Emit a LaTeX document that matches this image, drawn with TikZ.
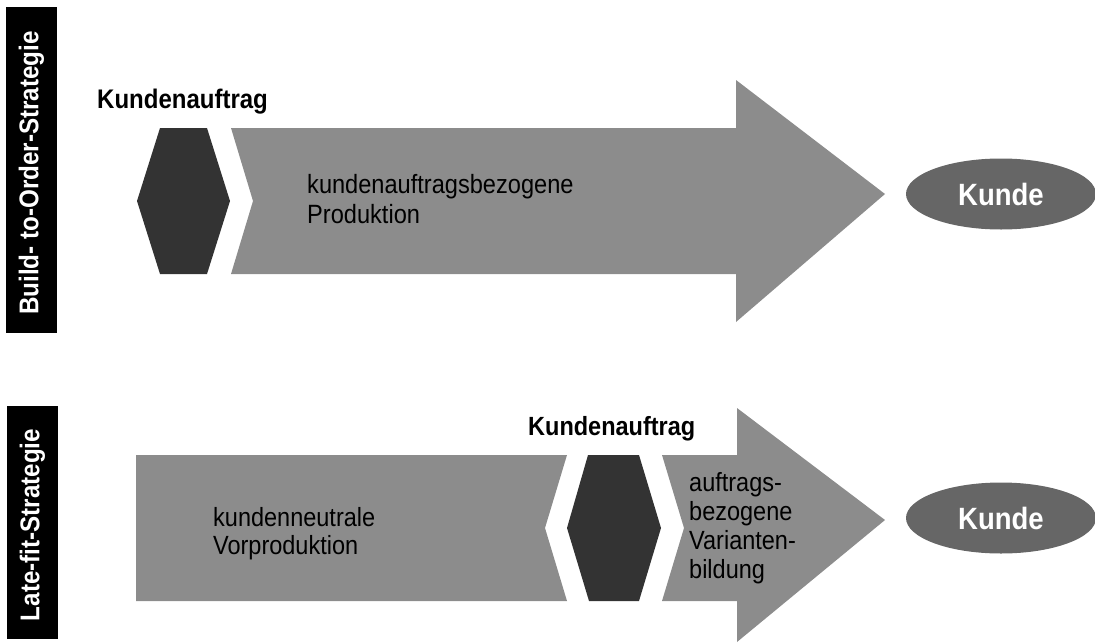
\documentclass[tikz,border=0pt]{standalone}
\usepackage{fontspec}
\usepackage{graphicx}
\setmainfont{Liberation Sans}
\usetikzlibrary{shapes.geometric}
\definecolor{arrowgray}{RGB}{140,140,140}
\definecolor{hexdark}{RGB}{51,51,51}
\definecolor{ellgray}{RGB}{102,102,102}
\newcommand{\vstretch}[1]{\scalebox{1}[1.12]{#1}}
\newcommand{\linesblock}[1]{\vstretch{\begin{tabular}[b]{@{}l@{}}#1\end{tabular}}}
\begin{document}
\begin{tikzpicture}[x=1pt,y=-1pt,
  arrowpart/.style={fill=arrowgray,draw=none},
  hexpart/.style={fill=hexdark,draw=none},
  kundeell/.style={ellipse,fill=ellgray,draw=none,minimum width=190pt,minimum height=71pt,inner sep=0pt,
     text=white,font=\fontsize{27.5}{30}\selectfont\bfseries},
  stratlabel/.style={rotate=90,text=white,font=\fontsize{24.2}{28}\selectfont\bfseries,inner sep=0pt},
  ordertext/.style={anchor=base west,inner sep=0pt,font=\fontsize{24}{28}\selectfont\bfseries},
  bodytext/.style={anchor=base west,inner sep=0pt},
]
\useasboundingbox (0,0) rectangle (1095,643);
% ---------- Build-to-Order ----------
\fill[black] (6,7) rectangle (57,333);
\node[stratlabel] (lab1) at (31.5,173) {\vstretch{Build- to-Order-Strategie}};
\node[ordertext] (ka1) at (97,108) {\vstretch{Kundenauftrag}};
\fill[hexpart] (160,128) -- (207,128) -- (230,201) -- (207,274) -- (160,274) -- (137,201) -- cycle;
\fill[arrowpart] (231,128) -- (736,128) -- (736,80) -- (885,194) -- (736,322) -- (736,274) -- (231,274) -- (253,201) -- cycle;
\node[bodytext,font=\fontsize{23.6}{25.9}\selectfont] (t1) at (307,223) {\linesblock{kundenauftragsbezogene\\Produktion}};
\node[kundeell] (k1) at (1001,194) {\vstretch{Kunde}};
% ---------- Late-fit ----------
\fill[black] (7,406) rectangle (58,639);
\node[stratlabel] (lab2) at (32.5,525) {\vstretch{Late-fit-Strategie}};
\node[ordertext,font=\fontsize{23.5}{28}\selectfont\bfseries] (ka2) at (528,435) {\vstretch{Kundenauftrag}};
\fill[arrowpart] (136,455) -- (567,455) -- (545,528) -- (567,601) -- (136,601) -- cycle;
\fill[hexpart] (588,455) -- (639,455) -- (661,528) -- (639,601) -- (589,601) -- (567,528) -- cycle;
\fill[arrowpart] (662,455) -- (737,455) -- (737,408) -- (885,520) -- (737,642) -- (737,601) -- (662,601) -- (684,528) -- cycle;
\node[bodytext,font=\fontsize{23.5}{24.1}\selectfont] (t2) at (213,554) {\linesblock{kundenneutrale\\Vorproduktion}};
\node[bodytext,font=\fontsize{23.5}{25.6}\selectfont] (t3) at (689,578) {\linesblock{auftrags-\\bezogene\\Varianten-\\bildung}};
\node[kundeell] (k2) at (1001,518) {\vstretch{Kunde}};
\end{tikzpicture}
\end{document}
